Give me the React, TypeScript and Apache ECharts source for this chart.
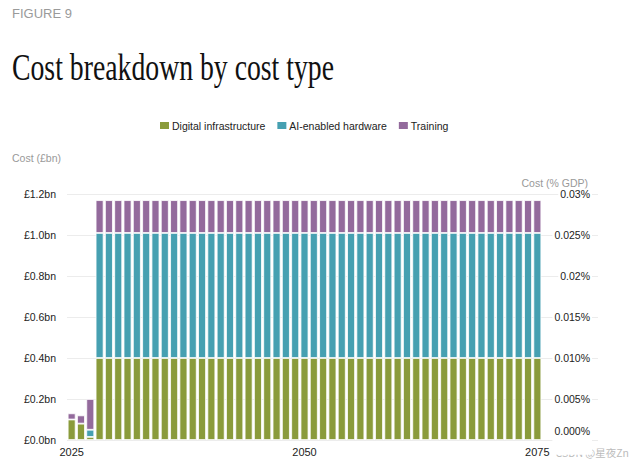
import React, { useEffect, useRef } from "react";
import * as echarts from "echarts";

const years = [
  "2025", "2026", "2027", "2028", "2029", "2030", "2031", "2032", "2033", "2034",
  "2035", "2036", "2037", "2038", "2039", "2040", "2041", "2042", "2043", "2044",
  "2045", "2046", "2047", "2048", "2049", "2050", "2051", "2052", "2053", "2054",
  "2055", "2056", "2057", "2058", "2059", "2060", "2061", "2062", "2063", "2064",
  "2065", "2066", "2067", "2068", "2069", "2070", "2071", "2072", "2073", "2074",
  "2075",
];

const digitalInfrastructure = [
  0.1, 0.08, 0.015,
  0.4, 0.4, 0.4, 0.4, 0.4, 0.4, 0.4, 0.4, 0.4, 0.4, 0.4, 0.4,
  0.4, 0.4, 0.4, 0.4, 0.4, 0.4, 0.4, 0.4, 0.4, 0.4, 0.4, 0.4,
  0.4, 0.4, 0.4, 0.4, 0.4, 0.4, 0.4, 0.4, 0.4, 0.4, 0.4, 0.4,
  0.4, 0.4, 0.4, 0.4, 0.4, 0.4, 0.4, 0.4, 0.4, 0.4, 0.4, 0.4,
];

const aiHardware = [
  0, 0, 0.035,
  0.61, 0.61, 0.61, 0.61, 0.61, 0.61, 0.61, 0.61, 0.61, 0.61, 0.61, 0.61,
  0.61, 0.61, 0.61, 0.61, 0.61, 0.61, 0.61, 0.61, 0.61, 0.61, 0.61, 0.61,
  0.61, 0.61, 0.61, 0.61, 0.61, 0.61, 0.61, 0.61, 0.61, 0.61, 0.61, 0.61,
  0.61, 0.61, 0.61, 0.61, 0.61, 0.61, 0.61, 0.61, 0.61, 0.61, 0.61, 0.61,
];

const training = [
  0.03, 0.04, 0.15,
  0.16, 0.16, 0.16, 0.16, 0.16, 0.16, 0.16, 0.16, 0.16, 0.16, 0.16, 0.16,
  0.16, 0.16, 0.16, 0.16, 0.16, 0.16, 0.16, 0.16, 0.16, 0.16, 0.16, 0.16,
  0.16, 0.16, 0.16, 0.16, 0.16, 0.16, 0.16, 0.16, 0.16, 0.16, 0.16, 0.16,
  0.16, 0.16, 0.16, 0.16, 0.16, 0.16, 0.16, 0.16, 0.16, 0.16, 0.16, 0.16,
];

const leftTicks = ["£0.0bn", "£0.2bn", "£0.4bn", "£0.6bn", "£0.8bn", "£1.0bn", "£1.2bn"];
const rightTicks = ["0.000%", "0.005%", "0.010%", "0.015%", "0.02%", "0.025%", "0.03%"];
const shownYears = ["2025", "2050", "2075"];

const GREEN = "#8a9b3b";
const TEAL = "#46a0b1";
const PURPLE = "#936a9c";
const SANS = "'Liberation Sans', Arial, sans-serif";

export default function App() {
  const ref = useRef<HTMLDivElement>(null);
  useEffect(() => {
    document.body.style.margin = "0";
    const chart = echarts.init(ref.current!, null, { renderer: "svg" });
    const barItem = (color: string) => ({ color, borderColor: "#fff", borderWidth: 0.8 });
    chart.setOption({
      animation: false,
      backgroundColor: "#fff",
      textStyle: { fontFamily: SANS },
      legend: {
        top: 115,
        left: 153,
        itemWidth: 11,
        itemHeight: 9,
        itemGap: 10,
        icon: "rect",
        textStyle: { fontSize: 10.5, color: "#222", padding: [0, 0, 0, -3] },
        data: ["Digital infrastructure", "AI-enabled hardware", "Training"],
      },
      grid: [
        { left: 67, right: 95, top: 194, bottom: 25 },
        { left: 67, right: 39, top: 194, bottom: 25 },
      ],
      xAxis: [
        {
          type: "category",
          gridIndex: 0,
          data: years,
          axisLine: { show: false },
          axisTick: { show: false },
          axisLabel: {
            interval: 0,
            color: "#222",
            fontSize: 11,
            margin: 6,
            formatter: (v: string) => (shownYears.includes(v) ? v : ""),
          },
        },
        { type: "value", gridIndex: 1, show: false, min: 0, max: 1 },
      ],
      yAxis: [
        {
          type: "value",
          gridIndex: 0,
          min: 0,
          max: 1.2,
          interval: 0.2,
          axisLine: { show: false },
          axisTick: { show: false },
          splitLine: { show: false },
          axisLabel: {
            color: "#222",
            fontSize: 10.5,
            margin: 11,
            formatter: (_v: number, i: number) => leftTicks[i],
          },
        },
        {
          type: "value",
          gridIndex: 1,
          min: 0,
          max: 1.2,
          interval: 0.2,
          axisLine: { show: false },
          axisTick: { show: false },
          axisLabel: { show: false },
          splitLine: { lineStyle: { color: "#ececec", width: 1 } },
        },
        {
          type: "value",
          gridIndex: 1,
          position: "right",
          min: 0,
          max: 0.03,
          interval: 0.005,
          axisLine: { show: false },
          axisTick: { show: false },
          splitLine: { show: false },
          axisLabel: {
            inside: true,
            margin: 6,
            color: "#222",
            fontSize: 10.5,
            backgroundColor: "#fff",
            padding: [0, 2],
            formatter: (_v: number, i: number) =>
              i === 0 ? "{z|" + rightTicks[i] + "}" : rightTicks[i],
            rich: { z: { color: "#222", fontSize: 10.5, padding: [0, 0, 18, 0], backgroundColor: "#fff" } },
          },
        },
      ],
      series: [
        {
          name: "Digital infrastructure",
          type: "bar",
          stack: "cost",
          xAxisIndex: 0,
          yAxisIndex: 0,
          barCategoryGap: "15%",
          itemStyle: barItem(GREEN),
          data: digitalInfrastructure,
        },
        {
          name: "AI-enabled hardware",
          type: "bar",
          stack: "cost",
          xAxisIndex: 0,
          yAxisIndex: 0,
          barCategoryGap: "15%",
          itemStyle: barItem(TEAL),
          data: aiHardware,
        },
        {
          name: "Training",
          type: "bar",
          stack: "cost",
          xAxisIndex: 0,
          yAxisIndex: 0,
          barCategoryGap: "15%",
          itemStyle: barItem(PURPLE),
          data: training,
        },
      ],
      graphic: [
        {
          type: "text",
          left: 12,
          top: 7,
          style: { text: "FIGURE 9", font: "13px " + SANS, fill: "#9a9a9a" },
        },
        {
          type: "text",
          x: 12,
          y: 68,
          scaleX: 0.75,
          style: {
            text: "Cost breakdown by cost type",
            font: "37px 'Liberation Serif', 'Times New Roman', serif",
            fill: "#111",
            verticalAlign: "middle",
          },
        },
        {
          type: "text",
          left: 12,
          top: 152,
          style: { text: "Cost (£bn)", font: "10.5px " + SANS, fill: "#999" },
        },
        {
          type: "text",
          right: 49,
          top: 177,
          style: { text: "Cost (% GDP)", font: "10.5px " + SANS, fill: "#999" },
        },
        {
          type: "text",
          right: 8,
          top: 447,
          style: {
            text: "CSDN @星夜Zn",
            font: "10.5px 'Noto Sans CJK SC', " + SANS,
            fill: "#bbb",
          },
        },
      ],
    });
    return () => chart.dispose();
  }, []);
  return <div ref={ref} style={{ width: 637, height: 465 }} />;
}
